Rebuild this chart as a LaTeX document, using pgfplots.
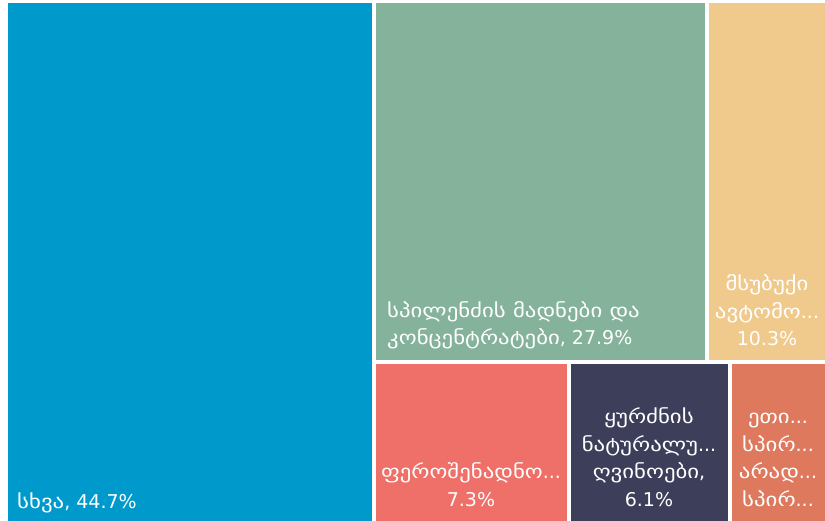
\documentclass[border=0pt]{standalone}
\usepackage{pgfplots}
\pgfplotsset{compat=1.18}
\usepackage{fontspec}
\setmainfont{DejaVu Sans}
\newfontfamily\geo[FakeStretch=1.2]{DejaVu Sans}
\newcommand{\g}[1]{{\geo #1}}
\definecolor{cblue}{RGB}{0,153,204}
\definecolor{cgreen}{RGB}{132,178,154}
\definecolor{cyellow}{RGB}{240,202,140}
\definecolor{cred}{RGB}{238,112,104}
\definecolor{cnavy}{RGB}{60,62,90}
\definecolor{corange}{RGB}{222,121,94}
\tikzset{lbl/.style={text=white,font=\fontsize{19}{27.5}\selectfont,inner sep=0pt}}
\begin{document}
\begin{tikzpicture}
\begin{axis}[
  width=825pt, height=521pt, scale only axis,
  xmin=0, xmax=825, ymin=0, ymax=521, y dir=reverse,
  hide axis, clip=false,
]
% background (white frame)
\addplot[fill=white, draw=none] coordinates {(0,0) (825,0) (825,521) (0,521)} -- cycle;
% treemap tiles (pixel coords: x1,y1 -- x2,y2)
\addplot[fill=cblue, draw=none] coordinates {(8,3) (372,3) (372,521) (8,521)} -- cycle;
\addplot[fill=cgreen, draw=none] coordinates {(376,3) (705,3) (705,360) (376,360)} -- cycle;
\addplot[fill=cyellow, draw=none] coordinates {(709,3) (825,3) (825,360) (709,360)} -- cycle;
\addplot[fill=cred, draw=none] coordinates {(376,364) (567,364) (567,521) (376,521)} -- cycle;
\addplot[fill=cnavy, draw=none] coordinates {(571,364) (728,364) (728,521) (571,521)} -- cycle;
\addplot[fill=corange, draw=none] coordinates {(732,364) (825,364) (825,521) (732,521)} -- cycle;
\node[lbl,anchor=base west] at (axis cs:17,508) {\g{სხვა}, 44.7\%};
\node[lbl,anchor=base west,align=left] at (axis cs:387,345) {\g{სპილენძის მადნები და}\\\g{კონცენტრატები}, 27.9\%};
\node[lbl,anchor=base,align=center] at (axis cs:767,346) {\g{მსუბუქი}\\\g{ავტომო}...\\10.3\%};
\node[lbl,anchor=base,align=center] at (axis cs:471,506) {\g{ფეროშენადნო}...\\7.3\%};
\node[lbl,anchor=base,align=center] at (axis cs:649,506) {\g{ყურძნის}\\\g{ნატურალუ}...\\\g{ღვინოები},\\6.1\%};
\node[lbl,anchor=base,align=center] at (axis cs:778,506) {\g{ეთი}...\\\g{სპირ}...\\\g{არად}...\\\g{სპირ}...};
\end{axis}
\end{tikzpicture}
\end{document}
